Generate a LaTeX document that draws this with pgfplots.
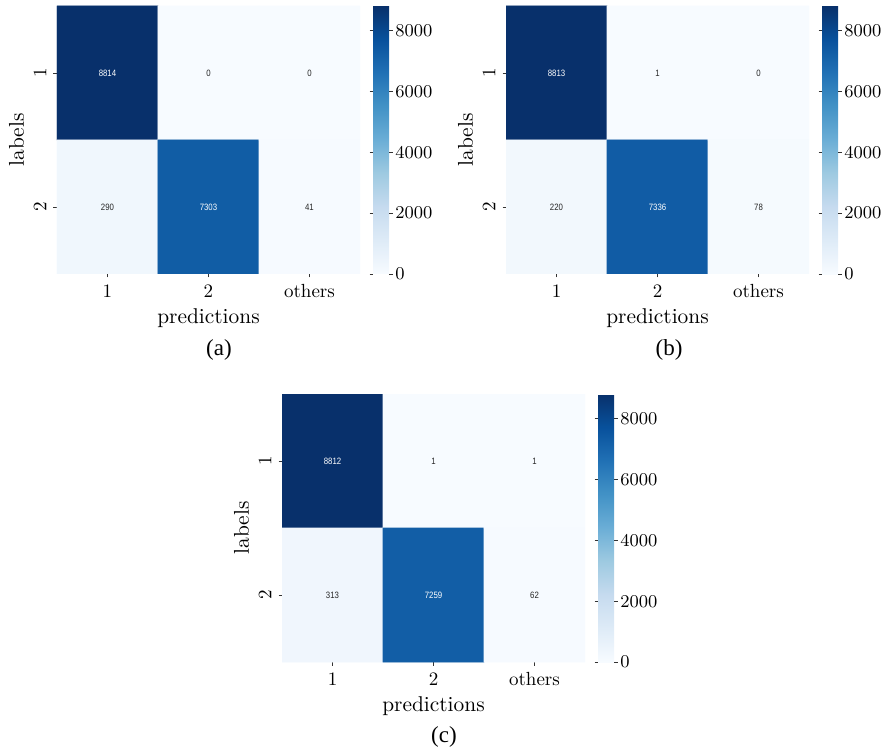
\documentclass[border=0pt]{standalone}
\usepackage{fontspec}
\usepackage{pgfplots}
\usepackage{pgfplotstable}
\pgfplotsset{compat=1.18}
\newfontfamily\capfont{Liberation Serif}
\newfontfamily\annotfont[FakeStretch=0.85]{Liberation Sans}
\definecolor{annotdark}{HTML}{262626}
\definecolor{tickgray}{HTML}{333333}

\pgfplotstableread{
x y c w
0 0 8814 1
1 0 0 0
2 0 0 0
0 1 290 0
1 1 7303 1
2 1 41 0
}\cma
\pgfplotstableread{
x y c w
0 0 8813 1
1 0 1 0
2 0 0 0
0 1 220 0
1 1 7336 1
2 1 78 0
}\cmb
\pgfplotstableread{
x y c w
0 0 8812 1
1 0 1 0
2 0 1 0
0 1 313 0
1 1 7259 1
2 1 62 0
}\cmc

\pgfplotsset{
  colorbar shift/.style={xshift=6.5pt},
  colormap={blues}{rgb255=(247,251,255) rgb255=(222,235,247) rgb255=(198,219,239) rgb255=(158,202,225) rgb255=(107,174,214) rgb255=(66,146,198) rgb255=(33,113,181) rgb255=(8,81,156) rgb255=(8,48,107)},
  cm/.style={
    scale only axis, width=151.5pt, height=134pt, anchor=south west,
    xmin=-0.5, xmax=2.5, ymin=-0.5, ymax=1.5, y dir=reverse,
    xtick={0,1,2}, xticklabels={1,2,others},
    ytick={0,1}, yticklabels={1,2},
    yticklabel style={rotate=90, anchor=south},
    xlabel={predictions}, ylabel={labels},
    ylabel style={yshift=-2pt},
    xlabel style={yshift=1.5pt},
    axis line style={draw=none},
    tick align=outside, xtick pos=bottom, ytick pos=left,
    major tick length=1.75pt,
    tick style={tickgray, line width=0.4pt},
    colormap name=blues,
    colorbar,
    colorbar style={
      at={(parent axis.north east)}, anchor=north west,
      width=8pt,
      ytick={0,2000,4000,6000,8000},
      scaled y ticks=false,
      yticklabel style={/pgf/number format/set thousands separator={}, /pgf/number format/fixed, font=\fontsize{9.5}{11}\selectfont, inner sep=1.2pt},
      axis line style={draw=none},
      tick align=outside, major tick length=1.75pt,
      tick style={tickgray, line width=0.4pt},
    },
    label style={font=\fontsize{10.7}{12}\selectfont},
    tick label style={font=\fontsize{9.5}{11}\selectfont},
  },
  cellplot/.style={matrix plot*, mesh/cols=3, point meta=\thisrow{c}},
  annot/.style={draw=none, mark=none, point meta=explicit symbolic,
    visualization depends on={\thisrow{w} \as \wv},
    nodes near coords={\ifdim\wv pt>0.5pt\color{white}\else\color{annotdark}\fi\pgfplotspointmeta},
    nodes near coords style={anchor=center, inner sep=0pt, font=\annotfont\fontsize{4.6}{5}\selectfont}},
}

\begin{document}
\begin{tikzpicture}
\path[use as bounding box] (0,0) rectangle (443pt,374pt);

\begin{axis}[cm, at={(28.5pt,237pt)}, point meta min=0, point meta max=8814]
  \addplot[cellplot] table {\cma};
  \addplot[annot] table[meta=c] {\cma};
\end{axis}

\begin{axis}[cm, at={(253pt,237pt)}, point meta min=0, point meta max=8813]
  \addplot[cellplot] table {\cmb};
  \addplot[annot] table[meta=c] {\cmb};
\end{axis}

\begin{axis}[cm, at={(141pt,43pt)}, point meta min=1, point meta max=8812]
  \addplot[cellplot] table {\cmc};
  \addplot[annot] table[meta=c] {\cmc};
\end{axis}

\node[font=\capfont\fontsize{11.5}{13}\selectfont] at (109.5pt,199pt) {(a)};
\node[font=\capfont\fontsize{11.5}{13}\selectfont] at (334.5pt,199pt) {(b)};
\node[font=\capfont\fontsize{11.5}{13}\selectfont] at (222pt,5.5pt) {(c)};
\end{tikzpicture}
\end{document}
